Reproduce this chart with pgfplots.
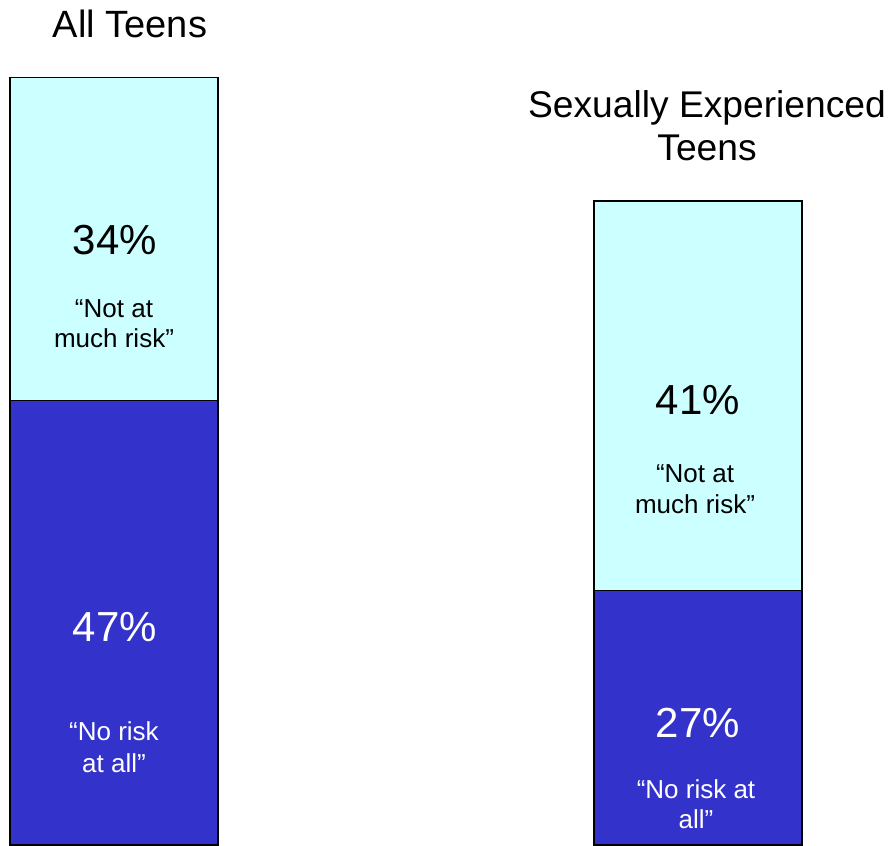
\documentclass[border=0pt]{standalone}
\usepackage{pgfplots}
\pgfplotsset{compat=1.18}
\usepackage{fontspec}
\setmainfont{Liberation Sans}
\definecolor{lightc}{HTML}{CCFFFF}
\definecolor{darkb}{HTML}{3333CC}
\begin{document}
\begin{tikzpicture}
\begin{axis}[
  name=ax,
  width=446pt, height=422.5pt, scale only axis,
  hide axis,
  xmin=0, xmax=892,
  ymin=0.21, ymax=89.16,
  ybar stacked,
  bar width=208,
  clip=true,
]
\addplot[draw=black, line width=0.8pt, fill=darkb] coordinates {(114,47) (698,27)};
\addplot[draw=black, line width=0.8pt, fill=lightc] coordinates {(114,34) (698,41)};
\end{axis}
\begin{scope}[every node/.style={anchor=base, align=center, inner sep=0pt}]
\node[font=\fontsize{19}{21.5}\selectfont] at ([xshift=65pt, yshift=404pt]ax.south west) {All Teens};
\node[font=\fontsize{18.6}{21.5}\selectfont] at ([xshift=353.5pt, yshift=342.5pt]ax.south west) {Sexually Experienced\\Teens};
\node[font=\fontsize{21}{24}\selectfont] at ([xshift=57.5pt, yshift=295.5pt]ax.south west) {34\%};
\node[font=\fontsize{13}{15}\selectfont] at ([xshift=57pt, yshift=249pt]ax.south west) {“Not at\\much risk”};
\node[font=\fontsize{21}{24}\selectfont, text=white] at ([xshift=57.5pt, yshift=102pt]ax.south west) {47\%};
\node[font=\fontsize{13}{16}\selectfont, text=white] at ([xshift=57pt, yshift=36.5pt]ax.south west) {“No risk\\at all”};
\node[font=\fontsize{21}{24}\selectfont] at ([xshift=349pt, yshift=215.5pt]ax.south west) {41\%};
\node[font=\fontsize{13}{15.5}\selectfont] at ([xshift=347.5pt, yshift=166pt]ax.south west) {“Not at\\much risk”};
\node[font=\fontsize{21}{24}\selectfont, text=white] at ([xshift=349pt, yshift=54pt]ax.south west) {27\%};
\node[font=\fontsize{13}{15}\selectfont, text=white] at ([xshift=348pt, yshift=8.5pt]ax.south west) {“No risk at\\all”};
\end{scope}
\pgfresetboundingbox
\path[use as bounding box] (ax.south west) rectangle (ax.north east);
\end{tikzpicture}
\end{document}
